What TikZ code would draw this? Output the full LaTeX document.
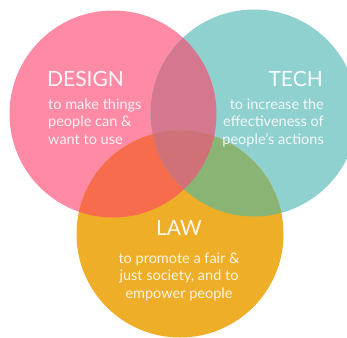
\documentclass[tikz,border=0pt]{standalone}
\usepackage{fontspec}
\setmainfont{Lato}
\usepackage{tikz}
\definecolor{DesignPink}{HTML}{FF8AA6}
\definecolor{TechTeal}{HTML}{8ED1CF}
\definecolor{LawGold}{HTML}{EEAE28}
\definecolor{DesignTech}{HTML}{D5778F}
\definecolor{DesignLaw}{HTML}{F86C4E}
\definecolor{TechLaw}{HTML}{8AB474}
\definecolor{AllThree}{HTML}{D07077}

\begin{document}
\begin{tikzpicture}[x=1pt, y=-1pt,
  heading/.style={inner sep=0pt, text=white, text opacity=0.92,
               font=\fontsize{21}{21}\selectfont},
  blurb/.style={inner sep=0pt, text=white, text opacity=0.88,
               font=\fontsize{14.5}{17.5}\selectfont}
]
\useasboundingbox (0,0) rectangle (347,337);
\def\rad{103.5}
\coordinate (design) at (113,114);
\coordinate (tech) at (254,113);
\coordinate (law) at (180,234);
% the three sets
\fill[DesignPink] (design) circle[radius=\rad];
\fill[TechTeal] (tech) circle[radius=\rad];
\fill[LawGold] (law) circle[radius=\rad];
% overlaps
\begin{scope}
  \clip (design) circle[radius=\rad];
  \fill[DesignTech] (tech) circle[radius=\rad];
  \fill[DesignLaw] (law) circle[radius=\rad];
  \clip (tech) circle[radius=\rad];
  \fill[AllThree] (law) circle[radius=\rad];
\end{scope}
\begin{scope}
  \clip (tech) circle[radius=\rad];
  \fill[TechLaw] (law) circle[radius=\rad];
  \clip (design) circle[radius=\rad];
  \fill[AllThree] (law) circle[radius=\rad];
\end{scope}
% labels
\node[heading, anchor=base west] (designtitle) at (47,86) {DESIGN};
\node[blurb, anchor=base west, align=left] (designtext) at (48,144)
  {to make things\\people can \&\\want to use};
\node[heading, anchor=base east] (techtitle) at (323,86) {TECH};
\node[blurb, anchor=base east, align=right] (techtext) at (324,144)
  {to increase the\\effectiveness of\\people's actions};
\node[heading, anchor=base] (lawtitle) at (179,235) {LAW};
\node[blurb, anchor=base, align=center] (lawtext) at (179,298)
  {to promote a fair \&\\just society, and to\\empower people};
\end{tikzpicture}
\end{document}
